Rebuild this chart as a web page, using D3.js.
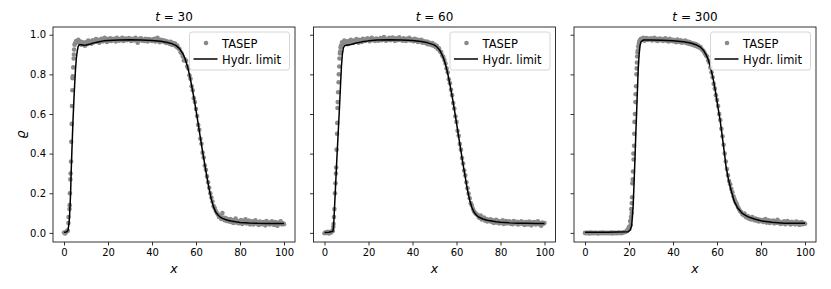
<!DOCTYPE html>
<html>
<head>
<meta charset="utf-8">
<script src="https://cdn.jsdelivr.net/npm/d3@7"></script>
<style>
	body { margin: 0; background: #fff; }
	svg { display: block; font-family: "DejaVu Sans", sans-serif; }
</style>
</head>
<body>
<div class="chart"></div>
<script>
const times = [30, 60, 300];
const xTicks = [0, 20, 40, 60, 80, 100];
const yTicks = [0, 0.2, 0.4, 0.6, 0.8, 1.0];
const legendLabels = ["TASEP", "Hydr. limit"];

// lattice sites, every 0.5 in x
const sites = d3.range(201).map((i) => i / 2);

// TASEP density on the sites
const tasep30 = [
	0.002, -0.003, 0.005, 0.012, 0.05, 0.12, 0.30, 0.55, 0.79, 0.90,
	0.955, 0.968, 0.962, 0.975, 0.958, 0.966, 0.95, 0.962, 0.957, 0.945,
	0.962, 0.952, 0.97, 0.958, 0.965, 0.955, 0.972, 0.962, 0.968, 0.978,
	0.965, 0.975, 0.96, 0.972, 0.98, 0.966, 0.974, 0.985, 0.97, 0.963,
	0.978, 0.97, 0.982, 0.968, 0.975, 0.98, 0.972, 0.966, 0.984, 0.976,
	0.97, 0.979, 0.974, 0.985, 0.968, 0.977, 0.981, 0.972, 0.976, 0.983,
	0.974, 0.968, 0.98, 0.976, 0.971, 0.984, 0.977, 0.96, 0.973, 0.979,
	0.982, 0.97, 0.975, 0.968, 0.98, 0.974, 0.966, 0.978, 0.972, 0.976,
	0.968, 0.975, 0.98, 0.966, 0.972, 0.985, 0.97, 0.962, 0.975, 0.968,
	0.972, 0.963, 0.969, 0.958, 0.966, 0.96, 0.955, 0.964, 0.95, 0.958,
	0.948, 0.955, 0.94, 0.945, 0.932, 0.928, 0.912, 0.905, 0.89, 0.87,
	0.875, 0.868, 0.84, 0.83, 0.795, 0.778, 0.74, 0.72, 0.68, 0.66,
	0.625, 0.59, 0.545, 0.52, 0.475, 0.45, 0.405, 0.38, 0.34, 0.318,
	0.285, 0.255, 0.228, 0.2, 0.178, 0.158, 0.135, 0.125, 0.11, 0.1,
	0.092, 0.08, 0.085, 0.07, 0.1, 0.078, 0.064, 0.075, 0.06, 0.068,
	0.058, 0.07, 0.055, 0.065, 0.05, 0.062, 0.072, 0.052, 0.06, 0.048,
	0.056, 0.065, 0.045, 0.06, 0.052, 0.068, 0.047, 0.055, 0.062, 0.043,
	0.05, 0.058, 0.042, 0.055, 0.063, 0.046, 0.052, 0.04, 0.057, 0.049,
	0.044, 0.055, 0.05, 0.038, 0.06, 0.047, 0.053, 0.042, 0.049, 0.058,
	0.045, 0.04, 0.055, 0.05, 0.036, 0.052, 0.046, 0.058, 0.043, 0.049,
	0.044
];
const tasep60 = [
	-0.002, 0.003, 0.0, 0.005, -0.003, 0.004, 0.002, 0.01, 0.03, 0.12,
	0.25, 0.42, 0.66, 0.8, 0.905, 0.945, 0.962, 0.955, 0.97, 0.958,
	0.965, 0.952, 0.968, 0.96, 0.975, 0.962, 0.958, 0.97, 0.965, 0.978,
	0.968, 0.96, 0.975, 0.97, 0.964, 0.98, 0.972, 0.968, 0.976, 0.982,
	0.974, 0.967, 0.979, 0.985, 0.972, 0.976, 0.969, 0.981, 0.975, 0.97,
	0.978, 0.983, 0.972, 0.977, 0.988, 0.974, 0.97, 0.98, 0.976, 0.984,
	0.972, 0.979, 0.986, 0.975, 0.969, 0.982, 0.977, 0.973, 0.987, 0.978,
	0.975, 0.97, 0.982, 0.976, 0.968, 0.98, 0.974, 0.984, 0.971, 0.977,
	0.973, 0.967, 0.979, 0.97, 0.976, 0.963, 0.972, 0.966, 0.975, 0.96,
	0.968, 0.962, 0.957, 0.966, 0.952, 0.96, 0.955, 0.948, 0.958, 0.944,
	0.95, 0.938, 0.944, 0.928, 0.932, 0.915, 0.912, 0.895, 0.888, 0.872,
	0.855, 0.83, 0.81, 0.775, 0.755, 0.722, 0.695, 0.655, 0.628, 0.588,
	0.56, 0.515, 0.49, 0.448, 0.42, 0.378, 0.35, 0.315, 0.29, 0.255,
	0.225, 0.198, 0.175, 0.15, 0.138, 0.12, 0.108, 0.1, 0.095, 0.09,
	0.082, 0.075, 0.088, 0.068, 0.072, 0.078, 0.062, 0.07, 0.058, 0.066,
	0.06, 0.068, 0.055, 0.063, 0.05, 0.058, 0.066, 0.052, 0.06, 0.048,
	0.057, 0.05, 0.064, 0.045, 0.055, 0.06, 0.048, 0.052, 0.058, 0.046,
	0.053, 0.044, 0.06, 0.05, 0.047, 0.056, 0.042, 0.052, 0.048, 0.058,
	0.045, 0.052, 0.04, 0.055, 0.048, 0.043, 0.057, 0.05, 0.038, 0.053,
	0.047, 0.055, 0.042, 0.05, 0.058, 0.044, 0.049, 0.036, 0.052, 0.046,
	0.05
];
const tasep300 = [
	0, -0.002, 0.001, 0, -0.003, 0.002, -0.001, 0, -0.002, 0.001,
	0, -0.001, -0.003, 0.001, 0, -0.002, 0.002, -0.001, 0, -0.002,
	0.001, -0.002, 0, -0.001, 0.002, -0.003, 0, 0.001, -0.002, 0,
	-0.001, 0.002, 0, -0.002, 0.001, 0.003, 0.004, 0.006, 0.01, 0.018,
	0.03, 0.06, 0.12, 0.25, 0.4, 0.56, 0.7, 0.83, 0.92, 0.955,
	0.972, 0.98, 0.975, 0.985, 0.97, 0.978, 0.983, 0.974, 0.98, 0.976,
	0.982, 0.971, 0.977, 0.985, 0.973, 0.979, 0.968, 0.976, 0.981, 0.972,
	0.978, 0.969, 0.975, 0.982, 0.97, 0.974, 0.966, 0.979, 0.972, 0.968,
	0.975, 0.966, 0.971, 0.962, 0.976, 0.968, 0.963, 0.972, 0.96, 0.967,
	0.962, 0.97, 0.958, 0.965, 0.955, 0.963, 0.952, 0.958, 0.949, 0.956,
	0.945, 0.952, 0.94, 0.946, 0.935, 0.938, 0.928, 0.922, 0.915, 0.905,
	0.895, 0.89, 0.87, 0.86, 0.835, 0.81, 0.785, 0.752, 0.728, 0.695,
	0.67, 0.64, 0.6, 0.57, 0.525, 0.488, 0.445, 0.4, 0.36, 0.322,
	0.29, 0.262, 0.245, 0.222, 0.205, 0.185, 0.17, 0.155, 0.145, 0.13,
	0.12, 0.11, 0.105, 0.095, 0.09, 0.098, 0.082, 0.078, 0.085, 0.072,
	0.075, 0.068, 0.08, 0.07, 0.064, 0.072, 0.062, 0.069, 0.058, 0.066,
	0.06, 0.065, 0.055, 0.062, 0.07, 0.052, 0.058, 0.064, 0.05, 0.06,
	0.055, 0.062, 0.048, 0.058, 0.052, 0.066, 0.05, 0.056, 0.045, 0.054,
	0.05, 0.058, 0.044, 0.052, 0.06, 0.047, 0.053, 0.042, 0.056, 0.048,
	0.051, 0.043, 0.057, 0.046, 0.053, 0.04, 0.05, 0.055, 0.044, 0.049,
	0.046
];

// extra TASEP points on the steep left edges, [x, density]
const edge30 = [
	[1.7, 0.01], [2.1, 0.08], [2.6, 0.14], [2.7, 0.2], [2.9, 0.27], [3.2, 0.36],
	[3.3, 0.46], [3.6, 0.64], [3.8, 0.72], [3.9, 0.78], [4.2, 0.835], [4.4, 0.88],
	[4.6, 0.925], [4.8, 0.95]
];
const edge60 = [
	[3.8, 0.01], [4.1, 0.045], [4.3, 0.08], [4.8, 0.2], [5.2, 0.3], [5.3, 0.33],
	[5.7, 0.5], [5.8, 0.555], [5.9, 0.63], [6.2, 0.71], [6.4, 0.76], [6.7, 0.84],
	[6.8, 0.88], [7.1, 0.915], [7.3, 0.935]
];
const edge300 = [
	[20.2, 0.02], [20.7, 0.04], [20.9, 0.08], [21.2, 0.1], [21.3, 0.15], [21.4, 0.18],
	[21.7, 0.27], [21.8, 0.31], [22.1, 0.37], [22.3, 0.44], [22.4, 0.5], [22.7, 0.6],
	[22.9, 0.66], [23.2, 0.74], [23.4, 0.8], [23.6, 0.86], [23.7, 0.89], [23.9, 0.91],
	[24.2, 0.94], [24.7, 0.965], [25.2, 0.975]
];

// hydrodynamic limit, [x, density]
const hydro30 = [
	[0, 0.003], [1, 0.004], [1.8, 0.012], [2.3, 0.05], [2.6, 0.1], [3, 0.2],
	[3.3, 0.32], [3.7, 0.45], [4.1, 0.57], [4.5, 0.67], [4.85, 0.75], [5.2, 0.82],
	[5.6, 0.88], [6, 0.915], [6.4, 0.94], [7, 0.95], [8, 0.949], [9, 0.947],
	[10, 0.948], [12, 0.953], [14, 0.96], [16, 0.965], [18, 0.969], [20, 0.971],
	[25, 0.974], [30, 0.975], [35, 0.974], [40, 0.971], [44, 0.967], [47, 0.961],
	[49, 0.955], [51, 0.945], [52.5, 0.93], [54, 0.905], [55, 0.88], [56, 0.845],
	[57, 0.8], [58, 0.745], [59, 0.685], [60, 0.62], [61, 0.55], [62, 0.48],
	[63, 0.41], [64, 0.345], [65, 0.28], [66, 0.22], [67, 0.168], [68, 0.13],
	[69, 0.105], [70, 0.09], [71, 0.08], [72, 0.073], [74, 0.065], [76, 0.06],
	[78, 0.056], [80, 0.053], [84, 0.05], [88, 0.048], [92, 0.047], [96, 0.047],
	[100, 0.047]
];
const hydro60 = [
	[0, 0.002], [2, 0.003], [3.8, 0.008], [4.1, 0.03], [4.4, 0.09], [5, 0.23],
	[5.6, 0.37], [6.2, 0.5], [6.8, 0.63], [7.3, 0.75], [7.7, 0.84], [8.1, 0.9],
	[8.6, 0.935], [9.2, 0.945], [10, 0.947], [12, 0.951], [14, 0.957], [17, 0.964],
	[20, 0.969], [24, 0.973], [30, 0.975], [35, 0.974], [40, 0.971], [44, 0.966],
	[47, 0.959], [49.5, 0.95], [51, 0.94], [52.5, 0.92], [54, 0.885], [55, 0.85],
	[56, 0.805], [57, 0.75], [58, 0.69], [59, 0.625], [60, 0.555], [61, 0.485],
	[62, 0.415], [63, 0.345], [64, 0.28], [65, 0.215], [66, 0.165], [67, 0.128],
	[68, 0.104], [69, 0.09], [70, 0.08], [72, 0.07], [74, 0.064], [76, 0.06],
	[78, 0.056], [80, 0.054], [84, 0.051], [88, 0.049], [92, 0.048], [96, 0.047],
	[100, 0.047]
];
const hydro300 = [
	[0, 0.003], [10, 0.003], [19.7, 0.006], [20.5, 0.015], [21.2, 0.035], [21.6, 0.09],
	[21.9, 0.14], [22.3, 0.25], [22.7, 0.37], [23.1, 0.5], [23.5, 0.62], [23.9, 0.74],
	[24.2, 0.83], [24.6, 0.9], [25, 0.945], [25.5, 0.965], [26.5, 0.973], [30, 0.974],
	[35, 0.972], [40, 0.969], [44.7, 0.965], [48, 0.958], [50.8, 0.948], [52.5, 0.937],
	[53.8, 0.922], [55, 0.9], [56.1, 0.872], [57.3, 0.825], [58.4, 0.77], [59.2, 0.72],
	[60, 0.665], [60.8, 0.61], [61.4, 0.57], [62, 0.52], [62.6, 0.469], [63.4, 0.4],
	[64.1, 0.335], [65.2, 0.27], [66.4, 0.215], [67.8, 0.16], [69.4, 0.125], [71.5, 0.098],
	[73.9, 0.082], [77, 0.07], [80, 0.061], [85, 0.054], [90.6, 0.049], [95, 0.048],
	[100, 0.048]
];

const tasepSets = [tasep30, tasep60, tasep300];
const edgeSets = [edge30, edge60, edge300];
const hydroSets = [hydro30, hydro60, hydro300];

var w = 831,
	h = 289,
	lefts = [53, 313.5, 574],
	padTop = 27,
	pw = 242,
	ph = 215;

const svg = d3.select(".chart").append("svg").attr("width", w).attr("height", h);

const xScale = d3.scaleLinear().domain([-5, 105]).range([0, pw]);
const yScale = d3.scaleLinear().domain([-0.046, 1.039]).range([ph, 0]);

const line = d3
	.line()
	.x((d) => xScale(d[0]))
	.y((d) => yScale(d[1]));

svg
	.append("defs")
	.append("clipPath")
	.attr("id", "clip")
	.append("rect")
	.attr("width", pw)
	.attr("height", ph);

times.forEach((t, k) => {
	const g = svg
		.append("g")
		.attr("transform", "translate(" + lefts[k] + "," + padTop + ")");

	const pts = sites
		.map((x, i) => [x, tasepSets[k][i]])
		.concat(edgeSets[k]);

	const plot = g.append("g").attr("clip-path", "url(#clip)");
	plot
		.selectAll("circle")
		.data(pts)
		.enter()
		.append("circle")
		.attr("cx", (d) => xScale(d[0]))
		.attr("cy", (d) => yScale(d[1]))
		.attr("r", 2.3)
		.attr("fill", "#8a8a8a");

	plot
		.append("path")
		.datum(hydroSets[k])
		.attr("d", line)
		.attr("fill", "none")
		.attr("stroke", "#000")
		.attr("stroke-width", 1.5)
		.attr("stroke-linejoin", "round");

	// axes
	const xAxis = d3
		.axisBottom(xScale)
		.tickValues(xTicks)
		.tickSize(3.5)
		.tickSizeOuter(0)
		.tickPadding(3.5);
	const yAxis = d3
		.axisLeft(yScale)
		.tickValues(yTicks)
		.tickSize(3.5)
		.tickSizeOuter(0)
		.tickPadding(3.5)
		.tickFormat(k === 0 ? d3.format(".1f") : () => "");

	const gx = g.append("g").attr("transform", "translate(0," + ph + ")").call(xAxis);
	const gy = g.append("g").call(yAxis);
	[gx, gy].forEach((a) => {
		a.select(".domain").remove();
		a.selectAll("line").attr("stroke", "#000").attr("stroke-width", 0.8);
		a.selectAll("text")
			.attr("fill", "#000")
			.style("font-size", "10px")
			.style("font-family", '"DejaVu Sans", sans-serif');
	});

	g.append("rect")
		.attr("width", pw)
		.attr("height", ph)
		.attr("fill", "none")
		.attr("stroke", "#000")
		.attr("stroke-width", 0.8);

	// title
	const title = g
		.append("text")
		.attr("x", pw / 2)
		.attr("y", -6)
		.attr("text-anchor", "middle")
		.style("font-size", "12px");
	title.append("tspan").style("font-style", "italic").text("t");
	title.append("tspan").text(" = " + t);

	g.append("text")
		.attr("x", pw / 2)
		.attr("y", ph + 31)
		.attr("text-anchor", "middle")
		.style("font-size", "12.5px")
		.style("font-style", "italic")
		.text("x");

	// legend
	const lx = pw - 5.5 - 100,
		ly = 5;
	const leg = g.append("g").attr("transform", "translate(" + lx + "," + ly + ")");
	leg.append("rect")
		.attr("width", 100)
		.attr("height", 38)
		.attr("rx", 2.5)
		.attr("fill", "#fff")
		.attr("fill-opacity", 0.8)
		.attr("stroke", "#cccccc")
		.attr("stroke-width", 0.8);
	leg.append("circle").attr("cx", 16.5).attr("cy", 11).attr("r", 2.3).attr("fill", "#8a8a8a");
	leg.append("line")
		.attr("x1", 4)
		.attr("x2", 28)
		.attr("y1", 27)
		.attr("y2", 27)
		.attr("stroke", "#000")
		.attr("stroke-width", 1.5);
	leg.selectAll("text.lab")
		.data(legendLabels)
		.enter()
		.append("text")
		.attr("class", "lab")
		.attr("x", 32.5)
		.attr("y", (d, i) => 15.5 + i * 16)
		.style("font-size", "11.5px")
		.text((d) => d);
});

// y label
svg
	.append("text")
	.attr("transform", "translate(25," + (padTop + ph / 2) + ") rotate(-90)")
	.attr("text-anchor", "middle")
	.style("font-size", "13px")
	.style("font-style", "italic")
	.text("ϱ");
</script>
</body>
</html>
